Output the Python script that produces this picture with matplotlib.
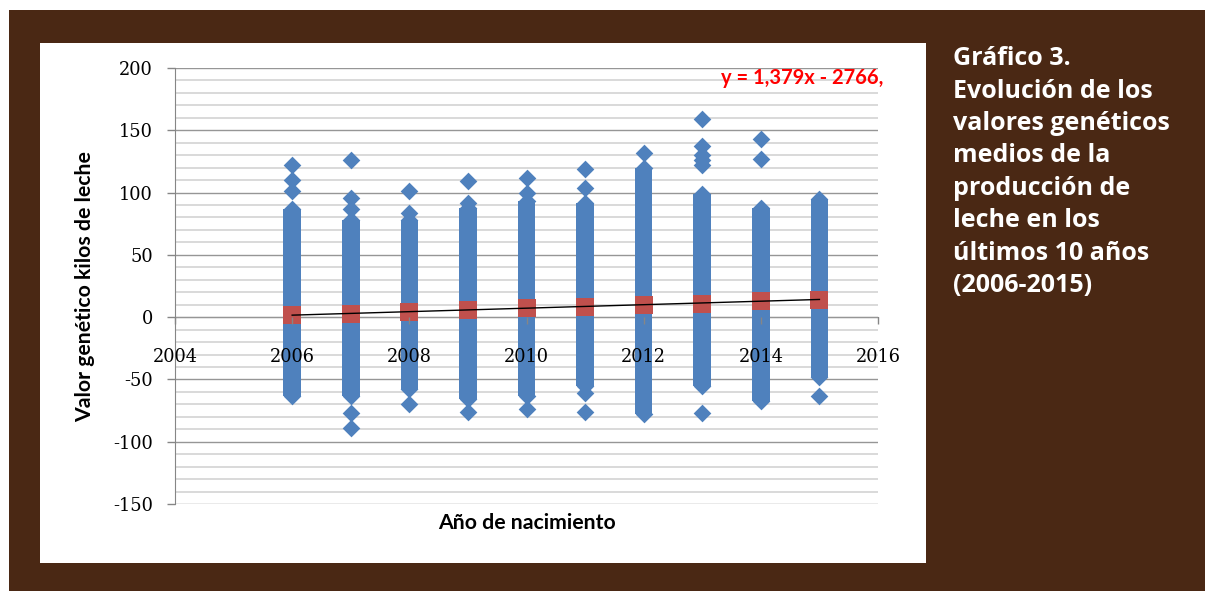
import numpy as np
import matplotlib
matplotlib.use("Agg")
from matplotlib import pyplot as plt
from matplotlib.patches import Rectangle
from matplotlib.ticker import MultipleLocator

plt.rcParams["axes.unicode_minus"] = False

W, H = 1205, 591

years = [2006, 2007, 2008, 2009, 2010, 2011, 2012, 2013, 2014, 2015]
# bulk of the animals per year (top and bottom of the solid column)
dense_low = [-63, -63, -58, -66, -63, -55, -78, -55, -67, -48]
dense_high = [87, 78, 78, 88, 93, 92, 120, 99, 88, 95]
# yearly means (red squares)
means = [1.9, 2.6, 4.3, 5.5, 7.1, 8.3, 9.6, 10.8, 12.6, 13.5]

# isolated points outside the solid columns
outlier_years = [2006, 2006, 2006,
                 2007, 2007, 2007, 2007, 2007,
                 2008, 2008, 2008,
                 2009, 2009, 2009,
                 2010, 2010, 2010,
                 2011, 2011, 2011, 2011,
                 2012,
                 2013, 2013, 2013, 2013, 2013, 2013,
                 2014, 2014,
                 2015]
outlier_values = [122, 110, 101,
                  126, 96, 87, -77, -89,
                  101, 84, -70,
                  109, 92, -76,
                  112, 100, -74,
                  119, 104, -61, -76,
                  132,
                  159, 137, 130, 126, 122, -77,
                  143, 127,
                  -63]

trend_years = [2006, 2015]
trend_values = [1.6, 14.2]
equation = "y = 1,379x - 2766,"

caption = ["Gráfico 3.", "Evolución de los", "valores genéticos", "medios de la",
           "producción de", "leche en los", "últimos 10 años", "(2006-2015)"]

brown = "#4A2814"
blue = "#4F81BD"
red = "#C0504D"

fig = plt.figure(figsize=(W / 100, H / 100), dpi=100)
fig.patch.set_facecolor("white")
fig.add_artist(Rectangle((9 / W, 0), (W - 9) / W, (H - 10) / H, transform=fig.transFigure,
                         facecolor=brown, edgecolor="none", zorder=-2))
fig.add_artist(Rectangle((40 / W, (H - 563) / H), 886 / W, 520 / H, transform=fig.transFigure,
                         facecolor="white", edgecolor="none", zorder=-1))

ax = fig.add_axes([175 / W, (H - 504) / H, 703 / W, 436 / H])
ax.set_facecolor("none")

ax.bar(years, np.array(dense_high) - np.array(dense_low), bottom=dense_low, width=0.30,
       color=blue, zorder=3)
ax.scatter(years + years, dense_low + dense_high, marker="D", s=81, color=blue,
           linewidths=0, zorder=3)
ax.scatter(outlier_years, outlier_values, marker="D", s=81, color=blue, linewidths=0, zorder=3)
ax.scatter(years, means, marker="s", s=160, color=red, linewidths=0, zorder=4)
ax.plot(trend_years, trend_values, color="black", lw=1.0, zorder=5)

ax.set_xlim(2004, 2016)
ax.set_ylim(-150, 200)
ax.xaxis.set_major_locator(MultipleLocator(2))
ax.yaxis.set_major_locator(MultipleLocator(50))
ax.yaxis.set_minor_locator(MultipleLocator(10))
ax.grid(axis="y", which="minor", color="#D3D3D3", lw=1.2, zorder=0)
ax.grid(axis="y", which="major", color="#969696", lw=1.0, zorder=0)

ax.spines["top"].set_visible(False)
ax.spines["right"].set_visible(False)
ax.spines["left"].set_color("#868686")
ax.spines["bottom"].set_color("#868686")
ax.spines["bottom"].set_position(("data", 0))
ax.spines["bottom"].set_zorder(1)
# year labels sit on top of the columns
ax.xaxis.set_zorder(6)

ax.tick_params(axis="y", which="major", direction="out", length=6, width=1, color="#868686",
               pad=10, labelsize=12.8)
ax.tick_params(axis="y", which="minor", length=0)
ax.tick_params(axis="x", direction="out", length=5, width=1, color="#868686", pad=17,
               labelsize=12.8)
for lab in ax.get_xticklabels() + ax.get_yticklabels():
    lab.set_family("DejaVu Serif")

fig.text(883 / W, 1 - 78 / H, equation, ha="right", va="center", color="#FF0000",
         fontweight="bold", family="Lato", fontsize=14.5)
fig.text(527 / W, 1 - 523 / H, "Año de nacimiento", ha="center", va="center",
         fontweight="bold", family="Lato", fontsize=15.3)
fig.text(85 / W, 1 - 287 / H, "Valor genético kilos de leche", ha="center", va="center",
         rotation=90, fontweight="bold", family="Lato", fontsize=15.3)

for i, line in enumerate(caption):
    fig.text(953 / W, 1 - (65 + i * 32.5) / H, line, ha="left", va="baseline", color="white",
             fontweight="bold", family="Open Sans", fontsize=18)

fig.savefig("out.png", dpi=100)
